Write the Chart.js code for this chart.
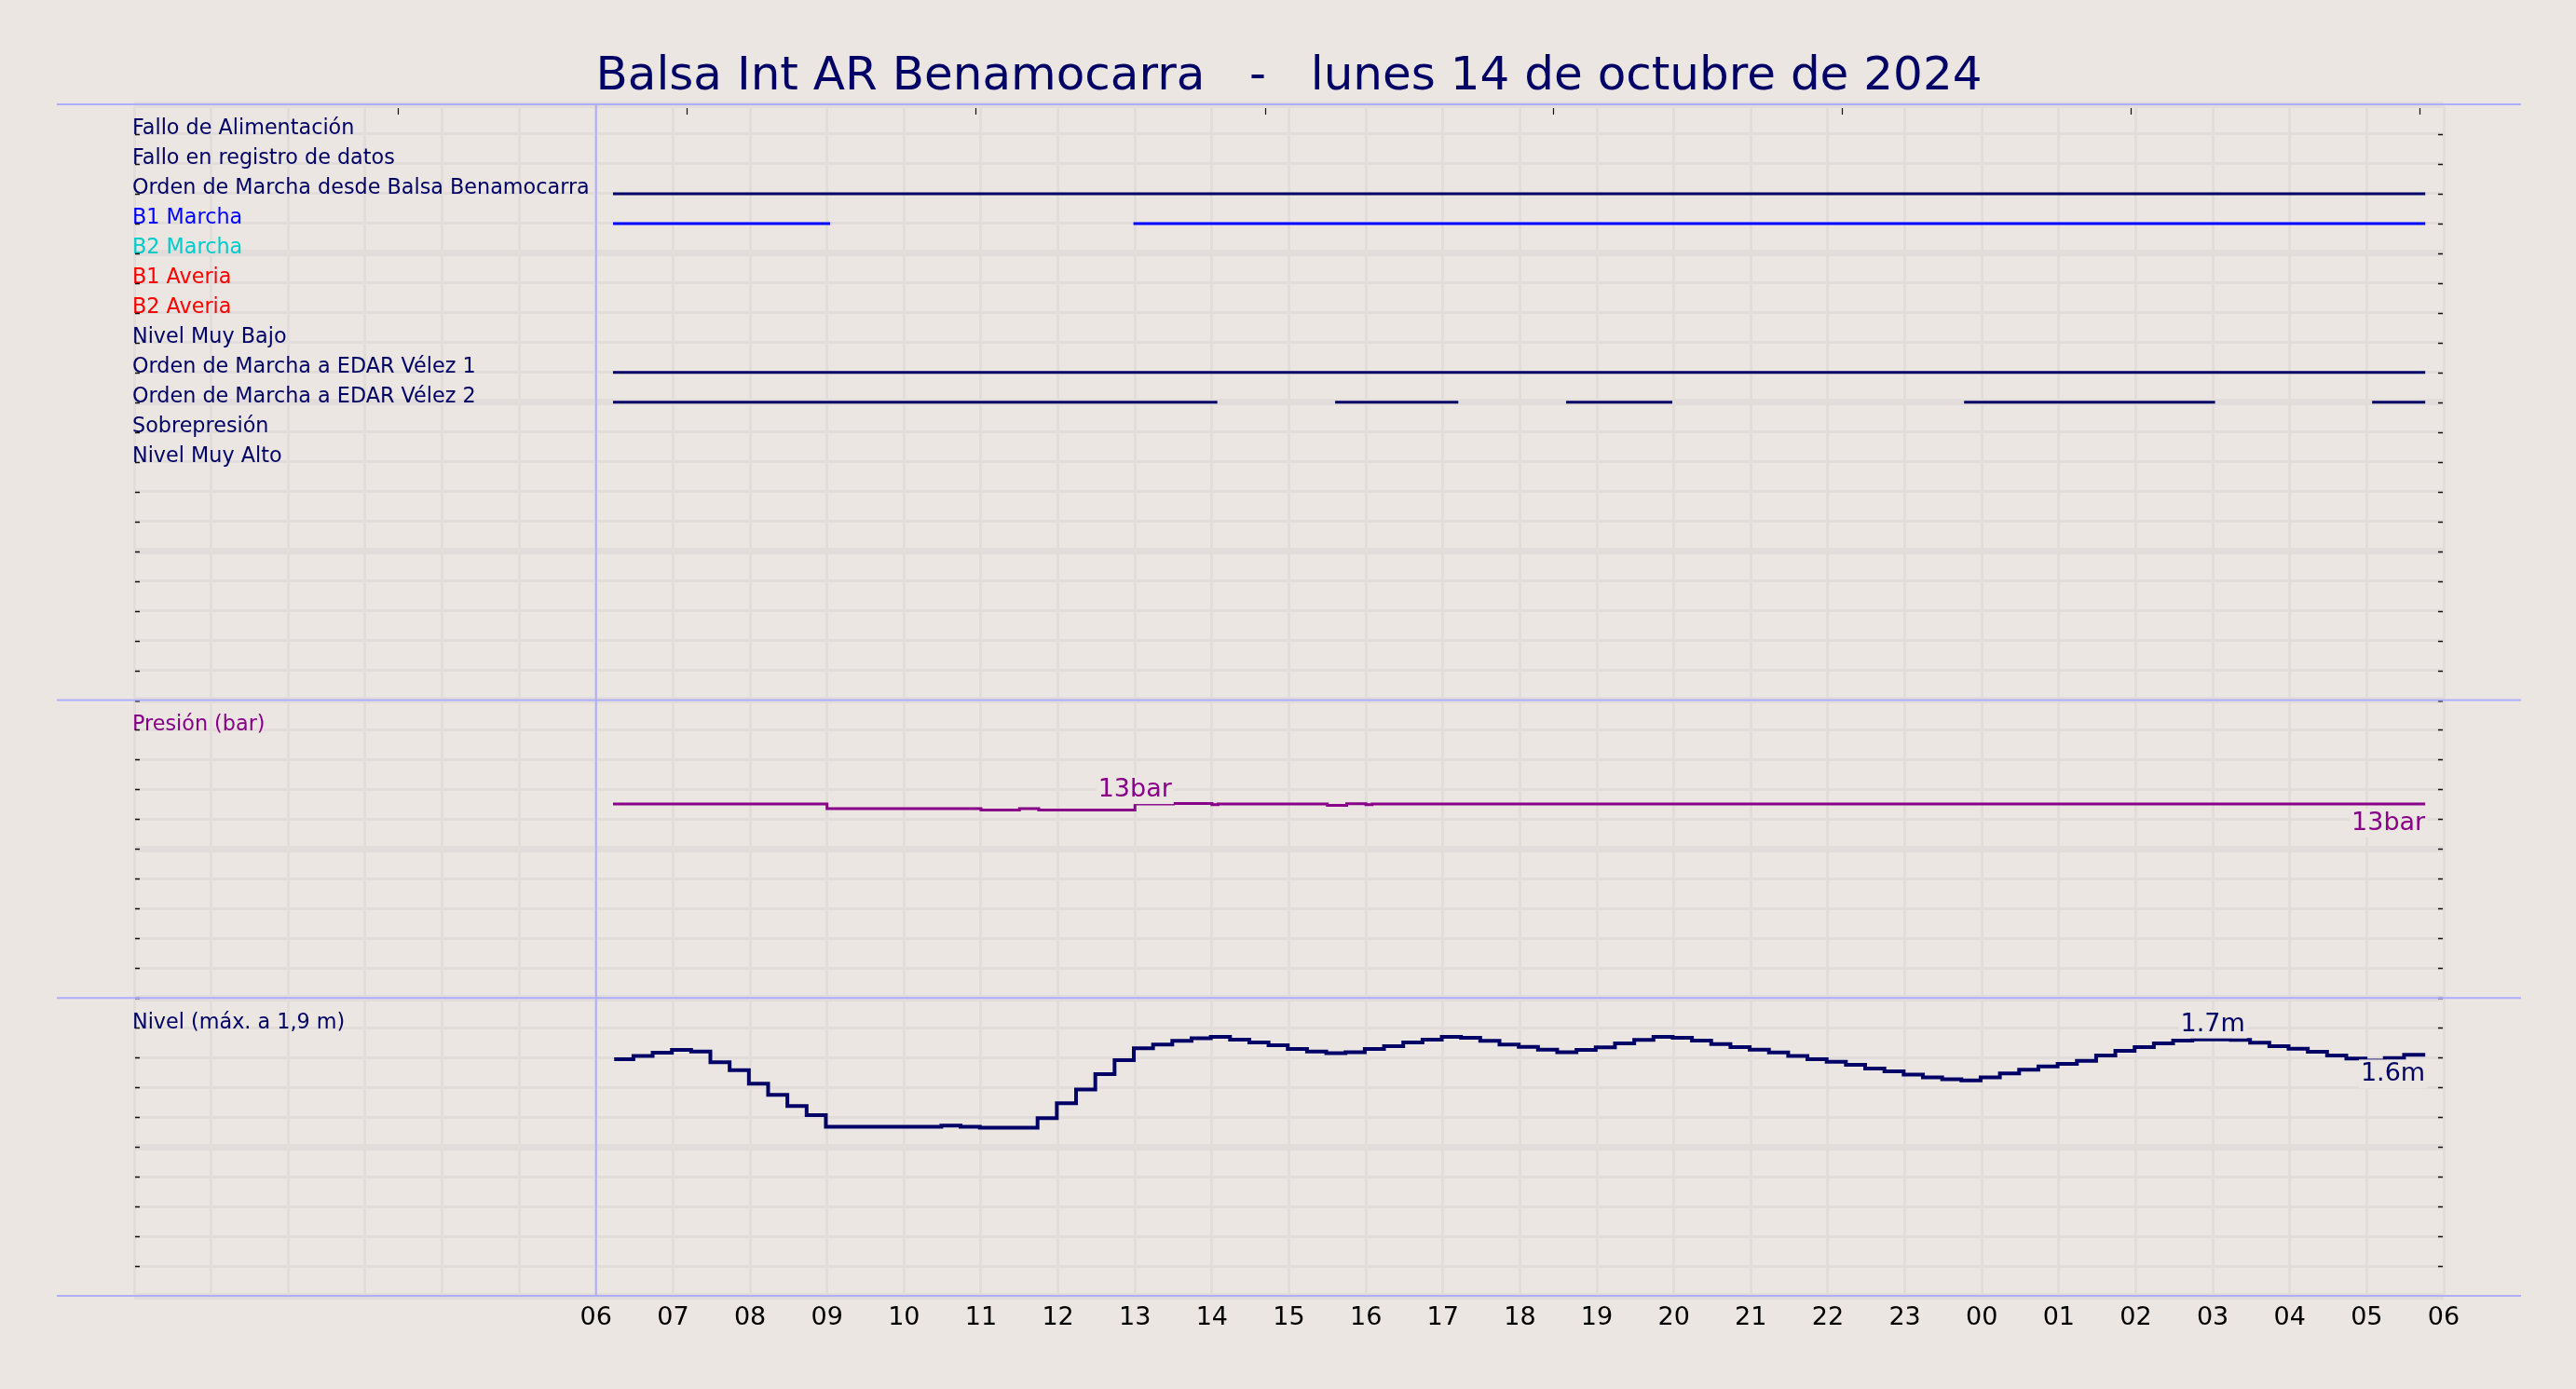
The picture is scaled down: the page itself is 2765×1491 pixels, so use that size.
<!DOCTYPE html>
<html><head><meta charset="utf-8">
<script src="https://cdn.jsdelivr.net/npm/chart.js@4.4.1/dist/chart.umd.min.js"></script>
<style>html,body{margin:0;padding:0;background:#ebe6e1;overflow:hidden}canvas{display:block}</style>
</head><body>
<canvas id="c" width="2765" height="1491" style="width:2765px;height:1491px"></canvas>
<script>
// ================= DATA =================
const titleText = 'Balsa Int AR Benamocarra   -   lunes 14 de octubre de 2024';

// x axis: hours from 00:00 of the day to 06:00 of the next day; labels from 06
const xMinHour = 0;
const xMaxHour = 30;
const xTickLabels = ['06','07','08','09','10','11','12','13','14','15','16','17','18',
                     '19','20','21','22','23','00','01','02','03','04','05','06'];
const xFirstLabelHour = 6;
const topTickHours = [3.42, 7.18, 10.93, 14.69, 18.43, 22.18, 25.93, 29.69];

// digital signals (rows of upper panel), intervals [start, end] in hours
const signalNames = [
  'Fallo de Alimentación',
  'Fallo en registro de datos',
  'Orden de Marcha desde Balsa Benamocarra',
  'B1 Marcha',
  'B2 Marcha',
  'B1 Averia',
  'B2 Averia',
  'Nivel Muy Bajo',
  'Orden de Marcha a EDAR Vélez 1',
  'Orden de Marcha a EDAR Vélez 2',
  'Sobrepresión',
  'Nivel Muy Alto'
];
const falloAlimentacionOn = [];
const falloRegistroOn = [];
const ordenBalsaOn = [[6.22, 29.76]];
const b1MarchaOn = [[6.22, 9.04], [12.98, 29.76]];
const b2MarchaOn = [];
const b1AveriaOn = [];
const b2AveriaOn = [];
const nivelMuyBajoOn = [];
const edar1On = [[6.22, 29.76]];
const edar2On = [[6.22, 14.07], [15.60, 17.20], [18.60, 19.98], [23.77, 27.03], [29.07, 29.76]];
const sobrepresionOn = [];
const nivelMuyAltoOn = [];

// pressure (bar): value holds from each time to the next
const pressTimes  = [6.22, 9.00, 11.00, 11.50, 11.75, 13.00, 13.50, 14.00, 14.08, 15.50, 15.75, 16.00, 16.08];
const pressValues = [13.02, 12.71, 12.62, 12.71, 12.62, 13.02, 13.06, 12.98, 13.02, 12.93, 13.04, 12.98, 13.02];
const pressEndHour = 29.76;
const pressMarkHour = 13.0;

// level (m): one reading every 15 minutes starting 06:14
const levelStartHour = 6.235;
const levelStepHours = 0.25;
const levelEndHour = 29.76;
const levelMarkHour = 27.0;
const levelValues = [
  1.588, 1.611, 1.632, 1.651, 1.641, 1.569, 1.515, 1.425, 1.350, 1.275,
  1.214, 1.135, 1.135, 1.135, 1.135, 1.135, 1.135, 1.143, 1.135, 1.129,
  1.129, 1.129, 1.193, 1.293, 1.386, 1.488, 1.582, 1.663, 1.688, 1.712,
  1.730, 1.739, 1.720, 1.701, 1.682, 1.657, 1.641, 1.630, 1.636, 1.657,
  1.676, 1.701, 1.720, 1.739, 1.733, 1.712, 1.688, 1.672, 1.653, 1.636,
  1.651, 1.668, 1.695, 1.718, 1.739, 1.733, 1.714, 1.691, 1.670, 1.653,
  1.634, 1.611, 1.588, 1.572, 1.551, 1.526, 1.507, 1.486, 1.467, 1.455,
  1.446, 1.467, 1.494, 1.519, 1.540, 1.557, 1.578, 1.613, 1.645, 1.670,
  1.695, 1.714, 1.722, 1.722, 1.718, 1.699, 1.676, 1.659, 1.638, 1.613,
  1.594, 1.580, 1.596, 1.618
];

// ================= STYLE =================
const BG = '#ebe6e1';
const GRID = '#e2dcda';
const SEP = '#aeaeff';
const NAVY = '#000066';
const PURPLE = '#880088';
const FONT = 'DejaVu Sans';
const signalLabelColors = [NAVY, NAVY, NAVY, '#0000ff', '#00cccc', '#ff0000', '#ff0000', NAVY, NAVY, NAVY, NAVY, NAVY];
const signalLineColors  = [NAVY, NAVY, NAVY, '#0000ff', '#00cccc', '#ff0000', '#ff0000', NAVY, NAVY, NAVY, NAVY, NAVY];

// ================= BUILD =================
const signalIntervals = [falloAlimentacionOn, falloRegistroOn, ordenBalsaOn, b1MarchaOn, b2MarchaOn,
  b1AveriaOn, b2AveriaOn, nivelMuyBajoOn, edar1On, edar2On, sobrepresionOn, nivelMuyAltoOn];

function stepPoints(times, values, end) {
  const pts = [];
  for (let i = 0; i < times.length; i++) {
    const next = i + 1 < times.length ? times[i + 1] : end;
    pts.push({x: times[i], y: values[i]});
    pts.push({x: next, y: values[i]});
  }
  return pts;
}
const levelTimes = levelValues.map((v, i) => levelStartHour + i * levelStepHours);
const levelPts = stepPoints(levelTimes, levelValues, levelEndHour);
const pressPts = stepPoints(pressTimes, pressValues, pressEndHour);

function valueAt(times, values, t) {
  let v = values[0];
  for (let i = 0; i < times.length; i++) if (times[i] <= t) v = values[i];
  return v;
}

const datasets = [];
signalIntervals.forEach((iv, i) => {
  if (!iv.length) return;
  const pts = [];
  iv.forEach(([a, b]) => { pts.push({x: a, y: i + 1}, {x: b, y: i + 1}, {x: b, y: null}); });
  datasets.push({data: pts, yAxisID: 'ySig', borderColor: signalLineColors[i], borderWidth: 3,
    pointRadius: 0, spanGaps: false, borderCapStyle: 'butt', tension: 0});
});
datasets.push({data: pressPts, yAxisID: 'yPress', borderColor: PURPLE, borderWidth: 3,
  pointRadius: 0, borderCapStyle: 'butt', borderJoinStyle: 'miter', tension: 0});
datasets.push({data: levelPts, yAxisID: 'yLevel', borderColor: NAVY, borderWidth: 4,
  pointRadius: 0, borderCapStyle: 'butt', borderJoinStyle: 'miter', tension: 0});

const thick = (ctx) => (ctx.index % 5 === 0 ? 7 : 3);

const decorations = {
  id: 'decorations',
  beforeDraw(chart) {
    const c = chart.ctx;
    c.save(); c.fillStyle = BG; c.fillRect(0, 0, chart.width, chart.height); c.restore();
  },
  afterDatasetsDraw(chart) {
    const c = chart.ctx, x = chart.scales.x;
    const yp = chart.scales.yPress, yl = chart.scales.yLevel;
    function label(text, px, baseline, align, color) {
      c.save();
      c.font = '27px "' + FONT + '"';
      const w = c.measureText(text).width;
      const left = align === 'center' ? px - w / 2 : px - w;
      c.fillStyle = BG;
      c.fillRect(left - 2, baseline - 23, w + 4, 31);
      c.fillStyle = color;
      c.textAlign = align; c.textBaseline = 'alphabetic';
      c.fillText(text, px, baseline);
      c.restore();
    }
    const pm = valueAt(pressTimes, pressValues, pressMarkHour);
    label(Math.round(pm) + 'bar', x.getPixelForValue(pressMarkHour), yp.getPixelForValue(pm) - 8, 'center', PURPLE);
    const pl = pressValues[pressValues.length - 1];
    label(Math.round(pl) + 'bar', x.getPixelForValue(pressEndHour), yp.getPixelForValue(pl) + 28, 'right', PURPLE);
    const lm = valueAt(levelTimes, levelValues, levelMarkHour);
    label(lm.toFixed(1) + 'm', x.getPixelForValue(levelMarkHour), yl.getPixelForValue(lm) - 9, 'center', NAVY);
    const ll = levelValues[levelValues.length - 1];
    label(ll.toFixed(1) + 'm', x.getPixelForValue(levelEndHour), yl.getPixelForValue(ll) + 28, 'right', NAVY);
  },
  afterDraw(chart) {
    const c = chart.ctx, a = chart.chartArea, x = chart.scales.x;
    c.save();
    // small inner ticks on both edges
    c.strokeStyle = '#111'; c.lineWidth = 1.6;
    ['ySig', 'yPress', 'yLevel'].forEach(id => {
      const s = chart.scales[id];
      s.ticks.forEach(t => {
        const y = Math.round(s.getPixelForValue(t.value)) + 0.5;
        if (y <= a.top + 2 || y >= a.bottom - 2) return;
        c.beginPath();
        c.moveTo(a.left + 1, y); c.lineTo(a.left + 6, y);
        c.moveTo(a.right - 6, y); c.lineTo(a.right - 1, y);
        c.stroke();
      });
    });
    // top ticks
    c.lineWidth = 1.2;
    topTickHours.forEach(h => {
      const px = Math.round(x.getPixelForValue(h)) + 0.5;
      c.beginPath(); c.moveTo(px, a.top + 4); c.lineTo(px, a.top + 11); c.stroke();
    });
    // separators
    c.strokeStyle = SEP; c.lineWidth = 2;
    const ys = [chart.scales.ySig.top, chart.scales.yPress.top, chart.scales.yLevel.top, chart.scales.yLevel.bottom];
    ys.forEach(y => { c.beginPath(); c.moveTo(a.left - 83, y); c.lineTo(a.right + 83, y); c.stroke(); });
    const x6 = x.getPixelForValue(xFirstLabelHour);
    c.beginPath(); c.moveTo(x6, a.top); c.lineTo(x6, a.bottom); c.stroke();
    c.restore();
  }
};

function yAxis(extra) {
  return Object.assign({
    type: 'linear', position: 'left', stack: 'panels',
    border: {display: false},
    grid: {color: GRID, lineWidth: thick, drawTicks: false},
    afterFit: (s) => { s.width = 0; }
  }, extra);
}

const labelFont = {family: FONT, size: 22.3};

new Chart(document.getElementById('c'), {
  type: 'line',
  data: {datasets},
  options: {
    responsive: false, animation: false, devicePixelRatio: 1,
    layout: {padding: {left: 144, right: 142, top: 0, bottom: 0}},
    plugins: {
      legend: {display: false}, tooltip: {enabled: false},
      title: {display: true, text: titleText, color: NAVY,
        font: {family: FONT, size: 50, weight: 'normal', lineHeight: 1.0}, padding: {top: 58, bottom: 4}}
    },
    scales: {
      x: {
        type: 'linear', min: xMinHour, max: xMaxHour,
        border: {display: false},
        grid: {color: GRID, lineWidth: 3, drawTicks: false},
        ticks: {stepSize: 1, autoSkip: false, maxRotation: 0, padding: 8, color: '#000',
          font: {family: FONT, size: 27},
          callback: (v) => (v >= xFirstLabelHour ? xTickLabels[v - xFirstLabelHour] : '')},
        afterFit: (s) => { s.height = 100; }
      },
      ySig: yAxis({
        min: 0, max: 20, reverse: true, stackWeight: 20, weight: 3,
        ticks: {stepSize: 1, autoSkip: false, mirror: true, padding: -2, labelOffset: -5.5, z: 1,
          font: labelFont,
          color: (ctx) => signalLabelColors[(ctx.tick ? ctx.tick.value : 1) - 1] || NAVY,
          callback: (v) => (v >= 1 && v <= signalNames.length ? signalNames[v - 1] : '')}
      }),
      yPress: yAxis({
        min: 0, max: 20, stackWeight: 10, weight: 2,
        ticks: {stepSize: 2, autoSkip: false, mirror: true, padding: -2, labelOffset: -5.5, z: 1,
          font: labelFont, color: PURPLE,
          callback: (v) => (v === 18 ? 'Presión (bar)' : '')}
      }),
      yLevel: yAxis({
        min: 0, max: 2, stackWeight: 10, weight: 1,
        ticks: {stepSize: 0.2, autoSkip: false, mirror: true, padding: -2, labelOffset: -5.5, z: 1,
          font: labelFont, color: NAVY,
          callback: (v) => (Math.abs(v - 1.8) < 1e-6 ? 'Nivel (máx. a 1,9 m)' : '')}
      })
    }
  },
  plugins: [decorations]
});
</script>
</body></html>
